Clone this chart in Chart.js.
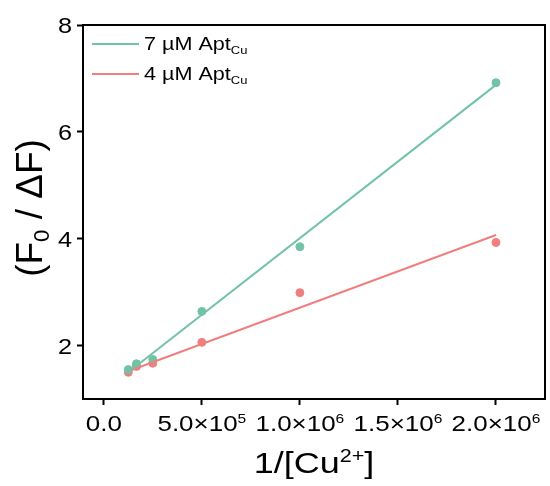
<!DOCTYPE html>
<html><head><meta charset="utf-8">
<script src="https://cdn.jsdelivr.net/npm/chart.js@4/dist/chart.umd.min.js"></script>
<style>html,body{margin:0;padding:0;background:#fff;}#wrap{width:550px;height:486px;}</style>
</head><body><div id="wrap"><canvas id="c" width="550" height="486"></canvas></div>
<script>
// ---- data ----
const xValues = [125000, 166667, 250000, 500000, 1000000, 2000000];
const apt7 = [1.55, 1.66, 1.74, 2.64, 3.85, 6.92];
const apt4 = [1.50, 1.61, 1.67, 2.06, 2.99, 3.93];
const fitX = [125000, 2000000];
const fit7 = [1.50, 6.88];
const fit4 = [1.52, 4.07];
const seriesLabels = ['7 µM Apt', '4 µM Apt'];
const seriesSub = 'Cu';
const xTicks = [0, 500000, 1000000, 1500000, 2000000];
const xTickLabels = [[['0.0']], [['5.0×10'], ['5', 'sup']], [['1.0×10'], ['6', 'sup']], [['1.5×10'], ['6', 'sup']], [['2.0×10'], ['6', 'sup']]];
const yTicks = [2, 4, 6, 8];
const yTickLabels = ['2', '4', '6', '8'];
const yTitle = [['(F'], ['0', 'sub'], [' / ΔF)']];
const xTitle = [['1/[Cu'], ['2+', 'sup'], [']']];

const GREEN = '#72c3a5', RED = '#ef7f7f';
const FONT = '"Liberation Sans", Arial, sans-serif';

function richWidth(ctx, segs, size) {
  let w = 0;
  for (const s of segs) {
    const fs = s[1] ? size * 0.6 : size;
    ctx.font = fs + 'px ' + FONT;
    w += ctx.measureText(s[0]).width;
  }
  return w;
}
function drawRich(ctx, segs, x, y, size, align, sx) {
  sx = sx || 1;
  ctx.save();
  ctx.translate(x, y);
  ctx.scale(sx, 1);
  const w = richWidth(ctx, segs, size);
  let cx = align === 'center' ? -w / 2 : (align === 'right' ? -w : 0);
  ctx.textBaseline = 'alphabetic';
  ctx.textAlign = 'left';
  ctx.fillStyle = '#000';
  for (const s of segs) {
    const fs = s[1] ? size * 0.6 : size;
    ctx.font = fs + 'px ' + FONT;
    let dy = 0;
    if (s[1] === 'sup') dy = -size * 0.38;
    if (s[1] === 'sub') dy = size * 0.2;
    ctx.fillText(s[0], cx, dy);
    cx += ctx.measureText(s[0]).width;
  }
  ctx.restore();
}

const decor = {
  id: 'decor',
  afterDraw(chart) {
    const ctx = chart.ctx, a = chart.chartArea;
    const xs = chart.scales.x, ys = chart.scales.y;
    ctx.save();
    ctx.strokeStyle = '#000';
    ctx.lineWidth = 2;
    ctx.strokeRect(a.left, a.top, a.right - a.left, a.bottom - a.top);
    // tick labels
    xTicks.forEach((v, i) => {
      drawRich(ctx, xTickLabels[i], xs.getPixelForValue(v), a.bottom + 32, 22, 'center', 1.18);
    });
    yTicks.forEach((v, i) => {
      drawRich(ctx, [[yTickLabels[i]]], a.left - 11, ys.getPixelForValue(v) + 8, 22, 'right', 1.15);
    });
    // axis titles
    drawRich(ctx, xTitle, (a.left + a.right) / 2, 473, 30, 'center', 1.2);
    ctx.save();
    ctx.translate(42, (a.top + a.bottom) / 2 - 4);
    ctx.rotate(-Math.PI / 2);
    drawRich(ctx, yTitle, 0, 0, 37, 'center', 1);
    ctx.restore();
    // legend
    const colors = [GREEN, RED];
    seriesLabels.forEach((lab, i) => {
      const ly = 44 + i * 30;
      ctx.strokeStyle = colors[i];
      ctx.lineWidth = 2;
      ctx.beginPath();
      ctx.moveTo(92, ly);
      ctx.lineTo(139, ly);
      ctx.stroke();
      drawRich(ctx, [[lab], [seriesSub, 'sub']], 144, ly + 6, 18, 'left', 1.2);
    });
    ctx.restore();
  }
};

const pts = (xs, ys) => xs.map((x, i) => ({x: x, y: ys[i]}));

new Chart(document.getElementById('c'), {
  type: 'scatter',
  data: {
    datasets: [
      {label: 'fit7', data: pts(fitX, fit7), showLine: true, borderColor: GREEN, borderWidth: 2, pointRadius: 0},
      {label: 'fit4', data: pts(fitX, fit4), showLine: true, borderColor: RED, borderWidth: 2, pointRadius: 0},
      {label: seriesLabels[0], data: pts(xValues, apt7), showLine: false, backgroundColor: GREEN, borderColor: GREEN, pointRadius: 4},
      {label: seriesLabels[1], data: pts(xValues, apt4), showLine: false, backgroundColor: RED, borderColor: RED, pointRadius: 4}
    ]
  },
  options: {
    responsive: false,
    animation: false,
    devicePixelRatio: 1,
    layout: {padding: {top: 25, right: 2, left: 0, bottom: 0}},
    plugins: {legend: {display: false}, tooltip: {enabled: false}},
    scales: {
      x: {
        type: 'linear', min: -106000, max: 2250000,
        afterBuildTicks: s => { s.ticks = xTicks.map(v => ({value: v})); },
        afterFit: s => { s.height = 87; },
        ticks: {display: false},
        border: {display: true, color: '#000', width: 2},
        grid: {display: true, drawOnChartArea: false, drawTicks: true, tickLength: 6, tickWidth: 2, tickColor: '#000', color: '#000'}
      },
      y: {
        type: 'linear', min: 1, max: 8,
        afterBuildTicks: s => { s.ticks = yTicks.map(v => ({value: v})); },
        afterFit: s => { s.width = 83; },
        ticks: {display: false},
        border: {display: true, color: '#000', width: 2},
        grid: {display: true, drawOnChartArea: false, drawTicks: true, tickLength: 6, tickWidth: 2, tickColor: '#000', color: '#000'}
      }
    }
  },
  plugins: [decor]
});
</script></body></html>
